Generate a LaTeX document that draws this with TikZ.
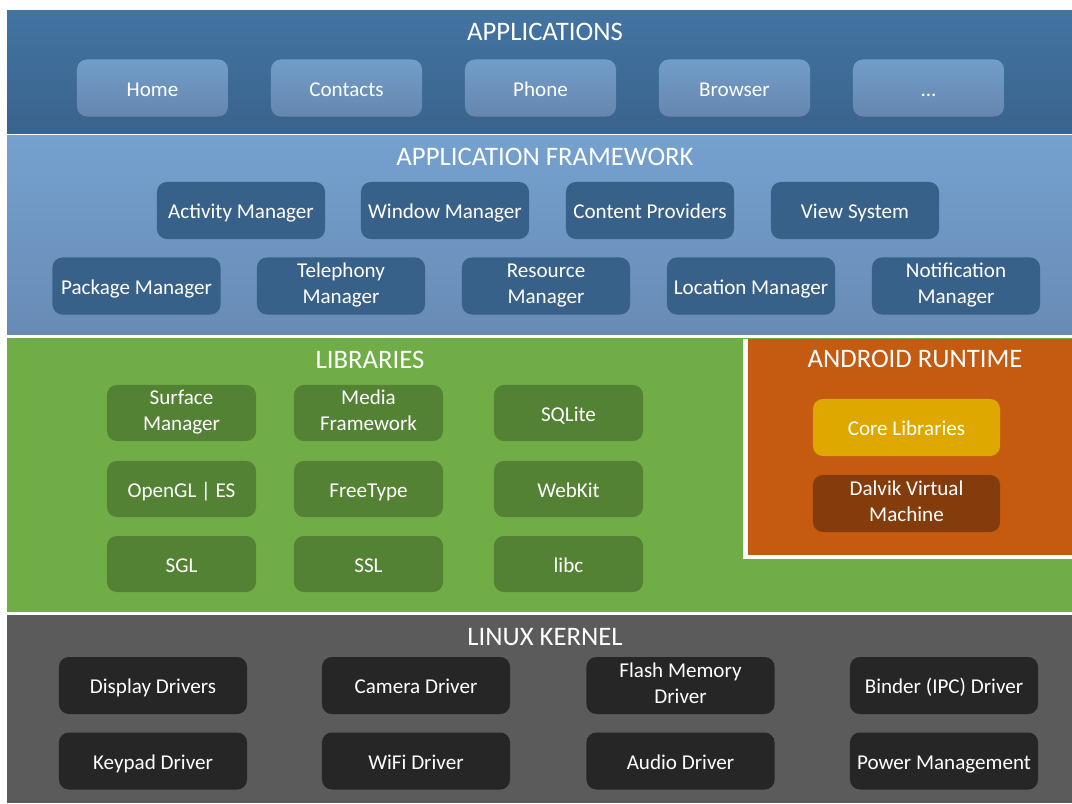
\documentclass[tikz,border=0pt]{standalone}
\usepackage{fontspec}
\setmainfont{Carlito}
\newcommand{\blkstrut}{\rule[-3.4pt]{0pt}{18.5pt}}
\begin{document}
\begin{tikzpicture} [
            x=0.025cm, y=-0.025cm,
            title/.style={text=white,font=\fontsize{19}{22}\selectfont},
            block/.style={rounded corners=7pt,text=white,align=center,inner sep=0pt,
                font=\fontsize{15}{18.5}\selectfont,minimum height=1.425cm,
                execute at begin node=\blkstrut,execute at end node=\blkstrut},
            appbox/.style={block,minimum width=3.775cm,top color=appTop,bottom color=appBot},
            fwbox/.style={block,minimum width=4.2cm,fill=fwBox},
            libbox/.style={block,minimum width=3.725cm,minimum height=1.4cm,fill=libBox},
            rtbox/.style={block,minimum width=4.675cm},
            krbox/.style={block,minimum width=4.7cm,fill=krBox},
        ]
        \definecolor{appTop}{HTML}{729DCA}
        \definecolor{appBot}{HTML}{6587AE}
        \definecolor{fwBox}{HTML}{386189}
        \definecolor{libBox}{HTML}{548235}
        \definecolor{krBox}{HTML}{262626}
        \useasboundingbox (0,0) rectangle (1072,803);
        \fill[white] (0,0) rectangle (1072,803);
        % layers
        \shade[top color={rgb,255:red,67;green,116;blue,162},bottom color={rgb,255:red,58;green,99;blue,141}]
            (7,10) rectangle (1072,133);
        \shade[top color={rgb,255:red,117;green,161;blue,207},bottom color={rgb,255:red,104;green,139;blue,181}]
            (7,135) rectangle (1072,334);
        \fill[color={rgb,255:red,112;green,173;blue,71}] (7,338) rectangle (1072,612);
        \fill[white] (743,339) rectangle (1072,559);
        \fill[color={rgb,255:red,197;green,90;blue,17}] (748,339) rectangle (1072,555);
        \fill[color={rgb,255:red,91;green,91;blue,91}] (7,615) rectangle (1072,803);
        % titles
        \node[title] (tapps) at (545,32) {APPLICATIONS};
        \node[title] (tframe) at (545,157) {APPLICATION FRAMEWORK};
        \node[title] (tlibs) at (370,360) {LIBRARIES};
        \node[title] (truntime) at (915,359) {ANDROID RUNTIME};
        \node[title] (tkernel) at (545,637) {LINUX KERNEL};
        % applications
        \foreach \pos/\name/\txt in {
                {(152.5,88)/home/Home}, {(346.5,88)/contacts/Contacts}, {(540.5,88)/phone/Phone},
                {(734.5,88)/browser/Browser}}
            \node[appbox] (\name) at \pos {\txt};
        \node[appbox] (more) at (928.5,88) {...};
        % application framework
        \foreach \pos/\name/\txt in {
                {(241,210.5)/activity/Activity Manager}, {(445,210.5)/window/Window Manager},
                {(650,210.5)/content/Content Providers}, {(855,210.5)/view/View System},
                {(136.5,286)/package/Package Manager}, {(341,286)/telephony/Telephony\\Manager},
                {(546,286)/resource/Resource\\Manager}, {(751,286)/location/Location Manager},
                {(956,286)/notification/Notification\\Manager}}
            \node[fwbox] (\name) at \pos {\txt};
        % libraries
        \foreach \pos/\name/\txt in {
                {(181.5,413)/surface/Surface\\Manager}, {(368.5,413)/media/Media\\Framework},
                {(568.5,413)/sqlite/SQLite}, {(181.5,489)/opengl/OpenGL | ES},
                {(368.5,489)/freetype/FreeType}, {(568.5,489)/webkit/WebKit},
                {(181.5,564)/sgl/SGL}, {(368.5,564)/ssl/SSL}, {(568.5,564)/libc/libc}}
            \node[libbox] (\name) at \pos {\txt};
        % android runtime
        \node[rtbox,fill={rgb,255:red,222;green,168;blue,0}] (core) at (906.5,427.5) {Core Libraries};
        \node[rtbox,fill={rgb,255:red,132;green,60;blue,12}] (dalvik) at (906.5,503.5) {Dalvik Virtual\\Machine};
        % linux kernel
        \foreach \pos/\name/\txt in {
                {(153,685.5)/display/Display Drivers}, {(416,685.5)/camera/Camera Driver},
                {(680.5,685.5)/flash/Flash Memory\\Driver}, {(944,685.5)/binder/Binder (IPC) Driver},
                {(153,761)/keypad/Keypad Driver}, {(416,761)/wifi/WiFi Driver},
                {(680.5,761)/audio/Audio Driver}, {(944,761)/power/Power Management}}
            \node[krbox] (\name) at \pos {\txt};
    \end{tikzpicture}
\end{document}
